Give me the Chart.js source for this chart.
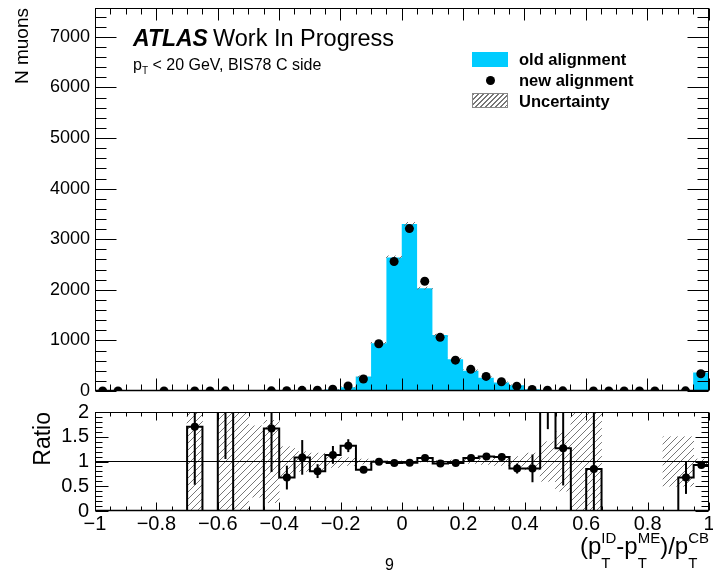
<!DOCTYPE html>
<html>
<head>
<meta charset="utf-8">
<title>BIS78 C side residuals</title>
<script src="https://cdn.jsdelivr.net/npm/chart.js@4.4.1/dist/chart.umd.min.js"></script>
<style>
  body { margin:0; background:#fff; }
  #page { position:relative; width:713px; height:574px; overflow:hidden;
          font-family:"Liberation Sans", Arial, Helvetica, sans-serif; color:#000; }
  #mainWrap { position:absolute; left:0; top:0; width:713px; height:400px; }
  #ratioWrap { position:absolute; left:0; top:400px; width:713px; height:174px; }
  .lbl { position:absolute; white-space:nowrap; line-height:1; }
  .lbl sub { font-size:10px; vertical-align:-4px; line-height:0; }
  .ss { display:inline-flex; flex-direction:column; font-size:15px; vertical-align:11px; }
  .ss span { line-height:15px; }
  .ss span + span { margin-top:10px; }
  .box { position:absolute; width:36px; height:15px; }
</style>
</head>
<body>
<div id="page">
  <div id="mainWrap"><canvas id="main"></canvas></div>
  <div id="ratioWrap"><canvas id="ratio"></canvas></div>

  <div class="lbl" style="left:133px;top:27px;font-size:23px;font-weight:bold;font-style:italic;">ATLAS</div>
  <div class="lbl" style="left:213px;top:27px;font-size:23.5px;">Work In Progress</div>
  <div class="lbl" style="left:133px;top:57px;font-size:16px;">p<sub>T</sub> &lt; 20 GeV, BIS78 C side</div>

  <div class="box" style="left:472px;top:52px;background:#00ccff;"></div>
  <div class="lbl" style="left:519px;top:51px;font-size:16.5px;font-weight:bold;">old alignment</div>
  <div style="position:absolute;left:486px;top:76px;width:9px;height:9px;border-radius:50%;background:#000;"></div>
  <div class="lbl" style="left:519px;top:72px;font-size:16.5px;font-weight:bold;">new alignment</div>
  <div class="box" style="left:472px;top:93px;box-sizing:border-box;border:1px solid #888;
       background:repeating-linear-gradient(135deg,#777 0 1px,#fff 1px 3.5px);"></div>
  <div class="lbl" style="left:519px;top:93px;font-size:16.5px;font-weight:bold;">Uncertainty</div>

  <div class="lbl" style="right:4px;top:530px;font-size:24px;">(p<span class="ss"><span>ID</span><span>T</span></span>-p<span class="ss"><span>ME</span><span>T</span></span>)/p<span class="ss"><span>CB</span><span>T</span></span></div>
  <div class="lbl" style="left:385px;top:557px;font-size:16px;">9</div>
</div>

<script>
// 40 bins of (pT_ID - pT_ME)/pT_CB between -1 and 1
const xMin = -1, binWidth = 0.05, nBins = 40;

const oldAlignment = [0, 0, 0, 0, 0, 0, 1, 0, 1, 1,
                      2, 1.5, 8, 12, 18, 30, 75, 285, 942, 2640,
                      3300, 2030, 1105, 630, 400, 262, 168, 112, 36, 6,
                      3, 1, 1, 0, 0, 0, 0, 4, 4, 365];
// null: no marker drawn for that bin
const newAlignment = [1, 1, null, null, 1, null, 1.7, 1, 3, null,
                      null, 2.5, 5.4, 13, 14.5, 34, 99, 237, 935, 2560,
                      3210, 2170, 1060, 610, 428, 288, 183, 96, 31, 14,
                      3.8, null, 0.85, 1, 1, 1, 1, null, 2.7, 340];
// error on new/old
const ratioErrors = [null, null, null, null, null, null, 1.17, null, 1.95, null,
                     null, 0.88, 0.24, 0.35, 0.14, 0.18, 0.13, 0.06, 0.03, 0.02,
                     0.02, 0.025, 0.03, 0.04, 0.05, 0.06, 0.07, 0.1, 0.28, 0.68,
                     0.75, null, 1.2, null, null, null, null, null, 0.33, 0.05];
// relative uncertainty of the old alignment
const oldRelUnc = [0, 0, 0, 0, 0, 0, 1, 0, 1, 1,
                   0.72, 0.83, 0.3, 0.2, 0.17, 0.12, 0.08, 0.05, 0.02, 0.012,
                   0.01, 0.012, 0.02, 0.03, 0.04, 0.06, 0.08, 0.1, 0.17, 0.4,
                   0.6, 1, 1, 0, 0, 0, 0, 0.5, 0.5, 0.05];

const countTicks = [0, 1000, 2000, 3000, 4000, 5000, 6000, 7000];
const ratioTicks = [0, 0.5, 1, 1.5, 2];
const xTicks = [-1, -0.8, -0.6, -0.4, -0.2, 0, 0.2, 0.4, 0.6, 0.8, 1];

Chart.defaults.font.family = "'Liberation Sans', Arial, sans-serif";
Chart.defaults.color = '#000';

const edges = [];
for (let i = 0; i <= nBins; i++) edges.push(+(xMin + i * binWidth).toFixed(3));
const centers = edges.slice(0, -1).map(e => +(e + binWidth / 2).toFixed(4));

// histogram as a stepped line: one point per lower edge + closing point
function stepData(vals) {
  const d = vals.map((v, i) => ({x: edges[i], y: v}));
  d.push({x: edges[nBins], y: vals[nBins - 1]});
  return d;
}

function hatchPattern() {
  const s = 7;
  const c = document.createElement('canvas');
  c.width = s; c.height = s;
  const g = c.getContext('2d');
  g.strokeStyle = '#777';
  g.lineWidth = 1;
  g.beginPath();
  g.moveTo(0, s); g.lineTo(s, 0);
  g.moveTo(-1, 1); g.lineTo(1, -1);
  g.moveTo(s - 1, s + 1); g.lineTo(s + 1, s - 1);
  g.stroke();
  return g.createPattern(c, 'repeat');
}
const hatch = hatchPattern();

const ratioVals = oldAlignment.map((o, i) =>
  (o > 0 && newAlignment[i] != null) ? newAlignment[i] / o : 0);

const mainPoints = [], ratioPoints = [], mainBand = [], ratioBand = [];
centers.forEach((c, i) => {
  const o = oldAlignment[i], n = newAlignment[i];
  if (n != null) mainPoints.push({x: c, y: n, err: ratioErrors[i] != null ? ratioErrors[i] * o : 0});
  if (ratioVals[i] > 0) ratioPoints.push({x: c, y: ratioVals[i], err: ratioErrors[i] || 0});
  if (o > 0) {
    const u = oldRelUnc[i];
    mainBand.push({x: c, y: [o * (1 - u), o * (1 + u)]});
    ratioBand.push({x: c, y: [1 - u, 1 + u]});
  }
});

// vertical error bars on the marker datasets
const errorBars = {
  id: 'errorBars',
  afterDatasetsDraw(chart) {
    const {ctx, chartArea: a, scales: {y}} = chart;
    ctx.save();
    ctx.beginPath();
    ctx.rect(a.left, a.top, a.right - a.left, a.bottom - a.top);
    ctx.clip();
    ctx.strokeStyle = '#000';
    ctx.lineWidth = 2;
    chart.data.datasets.forEach((ds, di) => {
      if (!ds.withErrors) return;
      const meta = chart.getDatasetMeta(di);
      meta.data.forEach((pt, k) => {
        const p = ds.data[k];
        if (!p.err) return;
        ctx.beginPath();
        ctx.moveTo(pt.x, y.getPixelForValue(p.y - p.err));
        ctx.lineTo(pt.x, y.getPixelForValue(p.y + p.err));
        ctx.stroke();
      });
    });
    ctx.restore();
  }
};

// frame with inward ticks on all four sides
const rootFrame = {
  id: 'rootFrame',
  afterDraw(chart, args, o) {
    const {ctx, chartArea: a, scales: {x, y}} = chart;
    const L = Math.round(a.left) + 0.5, R = Math.round(a.right) - 0.5;
    const T = Math.round(a.top) + 0.5, B = Math.round(a.bottom) - 0.5;
    const vals = (min, max, step) => {
      const out = [], n = Math.floor((max - min) / step + 1e-6);
      for (let k = 0; k <= n; k++) out.push(min + k * step);
      return out;
    };
    const isMajor = (v, m) => Math.abs(v / m - Math.round(v / m)) < 1e-6;
    ctx.save();
    ctx.strokeStyle = '#000';
    ctx.lineWidth = 1;
    ctx.strokeRect(L, T, R - L, B - T);
    ctx.beginPath();
    vals(x.min, x.max, o.xMinor).forEach(v => {
      const px = Math.round(x.getPixelForValue(v)) + 0.5;
      const len = isMajor(v, o.xMajor) ? o.xLen[0] : o.xLen[1];
      ctx.moveTo(px, B); ctx.lineTo(px, B - len);
      ctx.moveTo(px, T); ctx.lineTo(px, T + len);
    });
    vals(y.min, y.max, o.yMinor).forEach(v => {
      const py = Math.round(y.getPixelForValue(v)) + 0.5;
      const len = isMajor(v, o.yMajor) ? o.yLen[0] : o.yLen[1];
      ctx.moveTo(L, py); ctx.lineTo(L + len, py);
      ctx.moveTo(R, py); ctx.lineTo(R - len, py);
    });
    ctx.stroke();
    ctx.lineWidth = 1.5;
    ctx.beginPath();
    ctx.moveTo(L, B); ctx.lineTo(R, B);
    ctx.stroke();
    ctx.restore();
  }
};

const fixedTicks = arr => scale => { scale.ticks = arr.map(v => ({value: v})); };
const fmt = v => (Math.abs(v) < 1e-9 ? '0' : String(+v.toFixed(2))).replace('-', '\u2212');

new Chart(document.getElementById('main'), {
  data: {
    datasets: [
      {type: 'line', label: 'new alignment', data: mainPoints, showLine: false, withErrors: true,
       pointRadius: 4.5, pointHoverRadius: 4.5, pointBackgroundColor: '#000', pointBorderWidth: 0, order: 0},
      {type: 'bar', label: 'Uncertainty', data: mainBand, backgroundColor: hatch, borderWidth: 0,
       barPercentage: 1, categoryPercentage: 1, order: 1},
      {type: 'line', label: 'old alignment', data: stepData(oldAlignment), stepped: true, fill: 'origin',
       backgroundColor: '#00ccff', borderWidth: 0, pointRadius: 0, order: 2}
    ]
  },
  options: {
    responsive: true, maintainAspectRatio: false, animation: false, devicePixelRatio: 1,
    layout: {padding: {top: 8, right: 4, bottom: 9, left: 0}},
    plugins: {
      legend: {display: false}, tooltip: {enabled: false},
      rootFrame: {xMinor: 0.05, xMajor: 0.2, xLen: [12, 6], yMinor: 200, yMajor: 1000, yLen: [21, 11]}
    },
    scales: {
      x: {type: 'linear', min: -1, max: 1, offset: false, display: false},
      y: {
        min: 0, max: 7570,
        afterBuildTicks: fixedTicks(countTicks),
        afterFit: s => { s.width = 95; s.paddingTop = 0; s.paddingBottom = 0; },
        grid: {display: false, drawTicks: false},
        border: {display: false},
        ticks: {font: {size: 18}, padding: 5, autoSkip: false, callback: v => String(v)},
        title: {display: true, text: 'N muons', align: 'end', font: {size: 19, lineHeight: 1.2},
                padding: {top: 11, bottom: 0}}
      }
    }
  },
  plugins: [errorBars, rootFrame]
});

new Chart(document.getElementById('ratio'), {
  data: {
    datasets: [
      {type: 'line', label: 'ratio', data: ratioPoints, showLine: false, withErrors: true,
       pointRadius: 4, pointHoverRadius: 4, pointBackgroundColor: '#000', pointBorderWidth: 0, order: 0},
      {type: 'line', label: 'ratio hist', data: stepData(ratioVals), stepped: true, fill: false,
       borderColor: '#000', borderWidth: 2, pointRadius: 0, order: 1},
      {type: 'line', label: 'unity', data: [{x: -1, y: 1}, {x: 1, y: 1}], borderColor: '#000',
       borderWidth: 1, pointRadius: 0, order: 2},
      {type: 'bar', label: 'Uncertainty', data: ratioBand, backgroundColor: hatch, borderWidth: 0,
       barPercentage: 1, categoryPercentage: 1, order: 3}
    ]
  },
  options: {
    responsive: true, maintainAspectRatio: false, animation: false, devicePixelRatio: 1,
    layout: {padding: {top: 12, right: 4, bottom: 0, left: 0}},
    plugins: {
      legend: {display: false}, tooltip: {enabled: false},
      rootFrame: {xMinor: 0.05, xMajor: 0.2, xLen: [8, 4], yMinor: 0.1, yMajor: 0.5, yLen: [13, 7]}
    },
    scales: {
      x: {
        type: 'linear', min: -1, max: 1, offset: false,
        afterBuildTicks: fixedTicks(xTicks),
        afterFit: s => { s.height = 63; s.paddingLeft = 0; s.paddingRight = 0; },
        grid: {display: false, drawTicks: false, offset: false},
        border: {display: false},
        ticks: {font: {size: 20}, padding: 1, maxRotation: 0, autoSkip: false, callback: v => fmt(v)}
      },
      y: {
        min: 0, max: 2,
        afterBuildTicks: fixedTicks(ratioTicks),
        afterFit: s => { s.width = 95; s.paddingTop = 0; s.paddingBottom = 0; },
        grid: {display: false, drawTicks: false},
        border: {display: false},
        ticks: {font: {size: 20}, padding: 6, autoSkip: false, callback: v => fmt(v)},
        title: {display: true, text: 'Ratio', align: 'end', font: {size: 23, lineHeight: 1.2},
                padding: {top: 30, bottom: 0}}
      }
    }
  },
  plugins: [errorBars, rootFrame]
});
</script>
</body>
</html>
